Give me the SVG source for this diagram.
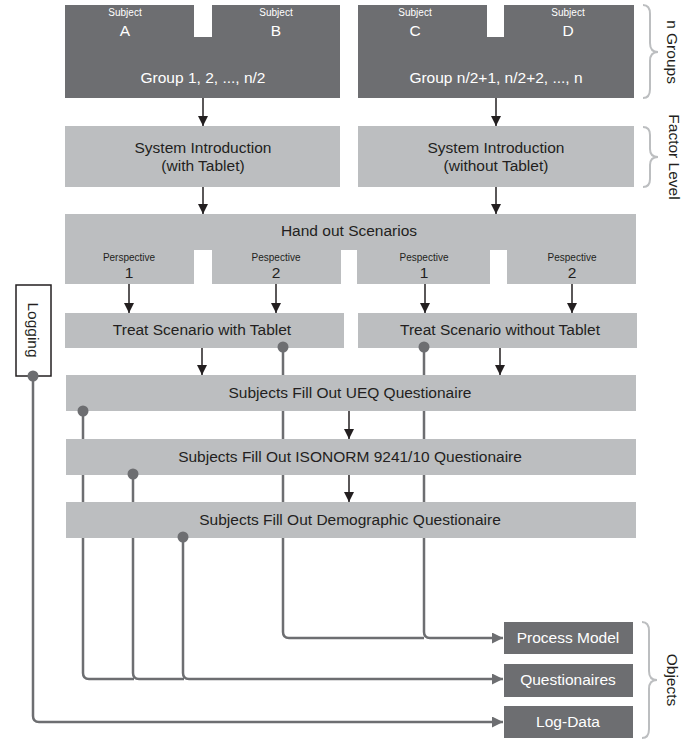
<svg xmlns="http://www.w3.org/2000/svg" width="699" height="739" viewBox="0 0 699 739">
<defs>
<style>
text{font-family:"Liberation Sans",Arial,sans-serif;text-anchor:middle}
.dark{fill:#6d6e71}
.light{fill:#bcbec0}
.tw{fill:#ffffff;font-size:15.5px}
.tws{fill:#ffffff;font-size:10px}
.tb{fill:#231f20;font-size:15.5px}
.tbs{fill:#231f20;font-size:10px}
.arr{stroke:#231f20;stroke-width:1.5;fill:none;marker-end:url(#ah)}
.gl{stroke:#6d6e71;stroke-width:2.5;fill:none}
.gla{stroke:#6d6e71;stroke-width:2.5;fill:none;marker-end:url(#gh)}
.dot{fill:#6d6e71}
.brace{stroke:#bcbec0;stroke-width:2;fill:none}
.rot{fill:#231f20;font-size:15.5px;dominant-baseline:central}
</style>
<marker id="ah" viewBox="0 0 10 10" refX="10" refY="5" markerWidth="10" markerHeight="10" markerUnits="userSpaceOnUse" orient="auto">
<path d="M0,0 L10,5 L0,10 Z" fill="#231f20"/>
</marker>
<marker id="gh" viewBox="0 0 10 10" refX="10" refY="5" markerWidth="11" markerHeight="11" markerUnits="userSpaceOnUse" orient="auto">
<path d="M0,0 L10,5 L0,10 Z" fill="#6d6e71"/>
</marker>
</defs>
<rect width="699" height="739" fill="#ffffff"/>

<g id="connectors">
<line class="arr" x1="203" y1="98" x2="203" y2="126"/>
<line class="arr" x1="496" y1="98" x2="496" y2="126"/>
<line class="arr" x1="203" y1="187" x2="203" y2="214"/>
<line class="arr" x1="496" y1="187" x2="496" y2="214"/>
<line class="arr" x1="129" y1="284" x2="129" y2="313"/>
<line class="arr" x1="276" y1="284" x2="276" y2="313"/>
<line class="arr" x1="425" y1="284" x2="425" y2="313"/>
<line class="arr" x1="572" y1="284" x2="572" y2="313"/>
<line class="arr" x1="202" y1="348" x2="202" y2="375"/>
<line class="arr" x1="500" y1="348" x2="500" y2="375"/>
<line class="arr" x1="349" y1="411" x2="349" y2="439"/>
<line class="arr" x1="349" y1="475" x2="349" y2="502"/>

<path class="gl" d="M283,347 V632 Q283,638 289,638 H424"/>
<path class="gla" d="M424,347 V632 Q424,638 430,638 H503"/>
<path class="gl" d="M83,411 V673 Q83,679 89,679 H134"/>
<path class="gl" d="M133,474 V673 Q133,679 139,679 H184"/>
<path class="gla" d="M183,537 V673 Q183,679 189,679 H503"/>
<path class="gla" d="M33,376 V716 Q33,722 39,722 H503"/>
</g>

<g id="group-left">
<path class="dark" d="M65,5 H194 V37 H212 V5 H340 V98 H65 Z"/>
<text class="tws" x="125" y="16">Subject</text>
<text class="tw" x="125" y="36">A</text>
<text class="tws" x="276" y="16">Subject</text>
<text class="tw" x="276" y="36">B</text>
<text class="tw" x="203" y="83">Group 1, 2, ..., n/2</text>
</g>

<g id="group-right">
<path class="dark" d="M358,5 H487 V37 H504 V5 H634 V98 H358 Z"/>
<text class="tws" x="415" y="16">Subject</text>
<text class="tw" x="415" y="36">C</text>
<text class="tws" x="568" y="16">Subject</text>
<text class="tw" x="568" y="36">D</text>
<text class="tw" x="496" y="83">Group n/2+1, n/2+2, ..., n</text>
</g>

<g id="intro-with">
<rect class="light" x="65" y="126" width="275" height="61"/>
<text class="tb" x="203" y="153">System Introduction</text>
<text class="tb" x="203" y="171">(with Tablet)</text>
</g>

<g id="intro-without">
<rect class="light" x="358" y="126" width="276" height="61"/>
<text class="tb" x="496" y="153">System Introduction</text>
<text class="tb" x="496" y="171">(without Tablet)</text>
</g>

<g id="handout">
<path class="light" d="M65,214 H636 V284 H507 V250 H490 V284 H357 V250 H341 V284 H212 V250 H194 V284 H65 Z"/>
<text class="tb" x="349" y="236">Hand out Scenarios</text>
<text class="tbs" x="129" y="261">Perspective</text>
<text class="tb" x="129" y="278">1</text>
<text class="tbs" x="276" y="261">Pespective</text>
<text class="tb" x="276" y="278">2</text>
<text class="tbs" x="424" y="261">Pespective</text>
<text class="tb" x="424" y="278">1</text>
<text class="tbs" x="572" y="261">Pespective</text>
<text class="tb" x="572" y="278">2</text>
</g>

<g id="treat-with">
<rect class="light" x="65" y="313" width="279" height="35"/>
<text class="tb" x="202" y="335">Treat Scenario with Tablet</text>
</g>

<g id="treat-without">
<rect class="light" x="358" y="313" width="279" height="35"/>
<text class="tb" x="500" y="335">Treat Scenario without Tablet</text>
</g>

<g id="ueq">
<rect class="light" x="66" y="375" width="570" height="36"/>
<text class="tb" x="350" y="398">Subjects Fill Out UEQ Questionaire</text>
</g>

<g id="isonorm">
<rect class="light" x="66" y="439" width="570" height="36"/>
<text class="tb" x="350" y="462">Subjects Fill Out ISONORM 9241/10 Questionaire</text>
</g>

<g id="demographic">
<rect class="light" x="66" y="502" width="570" height="36"/>
<text class="tb" x="350" y="525">Subjects Fill Out Demographic Questionaire</text>
</g>

<g id="logging">
<rect x="16" y="285" width="35" height="91" fill="#ffffff" stroke="#231f20" stroke-width="1.5"/>
<text class="rot" transform="translate(33,330) rotate(90)">Logging</text>
</g>

<g id="process-model">
<rect class="dark" x="504" y="622" width="129" height="32"/>
<text class="tw" x="568" y="643">Process Model</text>
</g>

<g id="questionaires">
<rect class="dark" x="504" y="664" width="129" height="33"/>
<text class="tw" x="568" y="685">Questionaires</text>
</g>

<g id="log-data">
<rect class="dark" x="504" y="706" width="129" height="32"/>
<text class="tw" x="568" y="727">Log-Data</text>
</g>

<g id="labels">
<path class="brace" d="M643,5 Q650,5 650,14 V43 Q650,52 658,52 Q650,52 650,61 V89 Q650,98 643,98"/>
<text class="rot" transform="translate(672,52) rotate(90)">n Groups</text>
<path class="brace" d="M643,127 Q650,127 650,135 V149 Q650,157 658,157 Q650,157 650,165 V179 Q650,187 643,187"/>
<text class="rot" transform="translate(674,157) rotate(90)">Factor Level</text>
<path class="brace" d="M642,622 Q649,622 649,631 V671 Q649,680 657,680 Q649,680 649,689 V729 Q649,738 642,738"/>
<text class="rot" transform="translate(672,680) rotate(90)">Objects</text>
</g>

<g id="connector-dots">
<circle class="dot" cx="283" cy="347" r="5.5"/>
<circle class="dot" cx="424" cy="347" r="5.5"/>
<circle class="dot" cx="83" cy="411" r="5.5"/>
<circle class="dot" cx="133" cy="474" r="5.5"/>
<circle class="dot" cx="183" cy="537" r="5.5"/>
<circle class="dot" cx="33" cy="376" r="5.5"/>
</g>
</svg>
